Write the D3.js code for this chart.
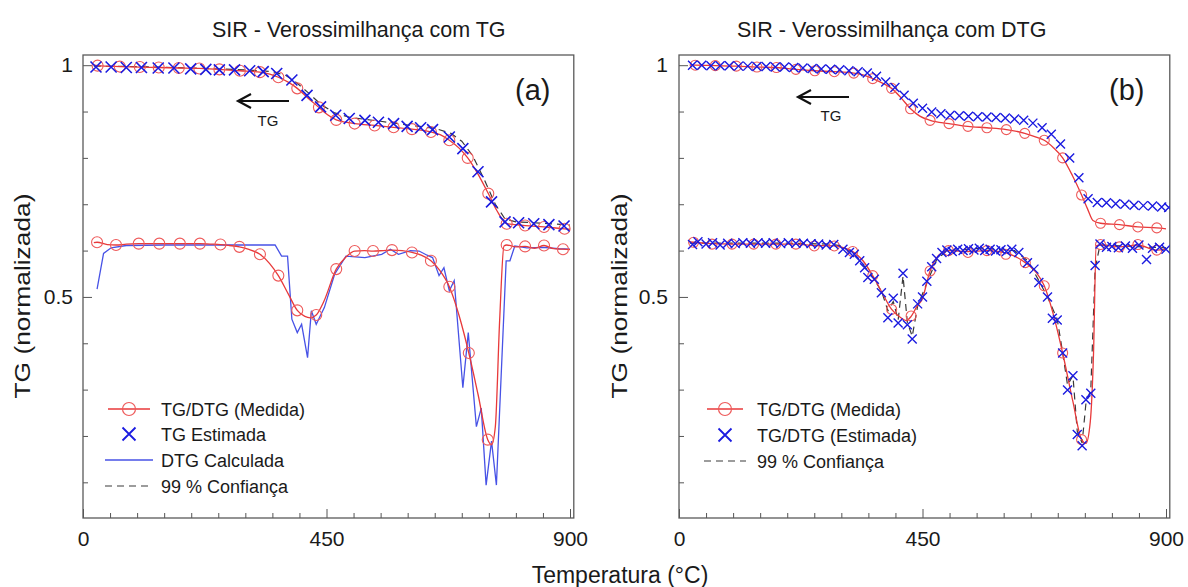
<!DOCTYPE html>
<html><head><meta charset="utf-8">
<script src="https://cdn.jsdelivr.net/npm/d3@7"></script>
<style>
body{margin:0;background:#fff}
svg{display:block}
text{font-family:"Liberation Sans", Arial, Helvetica, sans-serif; fill:#1a1a1a}
</style>
</head><body>
<svg id="chart" width="1188" height="587"></svg>
<script>
// ---------------- DATA ----------------
const titles = ["SIR - Verossimilhança com TG", "SIR - Verossimilhança com DTG"];
const panelLetters = ["(a)", "(b)"];
const xLabel = "Temperatura (°C)";
const yLabel = "TG (normalizada)";
const xTickValues = [0,50,100,150,200,250,300,350,400,450,500,550,600,650,700,750,800,850,900];
const xTickLabels = [0, 450, 900];
const yTickValues = [0.1,0.2,0.3,0.4,0.5,0.6,0.7,0.8,0.9,1.0];
const yTickLabels = [0.5, 1.0];
const legendA = ["TG/DTG (Medida)", "TG Estimada", "DTG Calculada", "99 % Confiança"];
const legendB = ["TG/DTG (Medida)", "TG/DTG (Estimada)", "99 % Confiança"];

// Panel (a) — TG measured (line and circle markers)
const aTgMeasLine = [[20,1.000],[27,0.999],[68,0.997],[105,0.996],[140,0.995],[177,0.994],[215,0.993],[252,0.991],[290,0.988],[327,0.985],[345,0.981],[361,0.974],[380,0.963],[396,0.950],[415,0.930],[436,0.909],[452,0.893],[468,0.882],[485,0.877],[502,0.874],[539,0.870],[574,0.866],[608,0.862],[643,0.856],[660,0.850],[677,0.838],[695,0.821],[711,0.800],[730,0.765],[749,0.723],[765,0.686],[783,0.658],[800,0.656],[817,0.654],[852,0.651],[890,0.647],[900,0.646]];
const aTgMeasPts = [[27,0.999],[68,0.997],[105,0.996],[140,0.995],[177,0.994],[215,0.993],[252,0.991],[290,0.988],[327,0.985],[361,0.974],[396,0.950],[436,0.909],[468,0.882],[502,0.874],[539,0.870],[574,0.866],[608,0.862],[643,0.856],[677,0.838],[711,0.800],[749,0.723],[783,0.658],[817,0.654],[852,0.651],[890,0.647]];
// Panel (a) — TG estimated (crosses)
const aTgEst = [[24,0.996],[52,0.996],[80,0.995],[108,0.995],[139,0.994],[168,0.994],[199,0.992],[227,0.991],[252,0.990],[280,0.990],[308,0.988],[333,0.986],[358,0.982],[386,0.968],[414,0.935],[439,0.910],[467,0.892],[492,0.885],[521,0.881],[546,0.877],[574,0.874],[599,0.868],[624,0.865],[646,0.861],[677,0.845],[702,0.820],[730,0.770],[755,0.705],[780,0.662],[805,0.660],[833,0.658],[861,0.656],[889,0.653]];
// Panel (a) — 99% confidence (dashed)
const aTgConf = [[20,0.998],[100,0.997],[200,0.994],[300,0.990],[350,0.986],[375,0.978],[395,0.962],[415,0.942],[440,0.915],[465,0.897],[495,0.887],[550,0.879],[600,0.871],[650,0.864],[680,0.853],[700,0.836],[720,0.805],[742,0.752],[762,0.700],[780,0.668],[800,0.662],[850,0.659],[900,0.655]];
// Panel (a) — DTG measured
const aDtgMeasLine = [[20,0.617],[26,0.618],[45,0.613],[61,0.612],[80,0.614],[103,0.615],[141,0.615],[179,0.615],[216,0.615],[235,0.614],[254,0.613],[270,0.611],[289,0.608],[305,0.603],[327,0.592],[345,0.572],[361,0.546],[380,0.505],[396,0.471],[410,0.458],[420,0.455],[431,0.461],[445,0.490],[468,0.560],[485,0.585],[502,0.599],[520,0.600],[536,0.599],[555,0.600],[571,0.601],[590,0.600],[608,0.596],[625,0.590],[643,0.578],[660,0.556],[677,0.522],[695,0.460],[713,0.379],[730,0.290],[748,0.192],[755,0.181],[762,0.220],[770,0.450],[778,0.610],[783,0.612],[800,0.608],[817,0.609],[835,0.605],[852,0.611],[870,0.604],[887,0.603],[900,0.602]];
const aDtgMeasPts = [[26,0.618],[61,0.612],[103,0.615],[141,0.615],[179,0.615],[216,0.615],[254,0.613],[289,0.608],[327,0.592],[361,0.546],[396,0.471],[431,0.461],[468,0.560],[502,0.599],[536,0.599],[571,0.601],[608,0.596],[643,0.578],[677,0.522],[713,0.379],[748,0.192],[783,0.612],[817,0.609],[852,0.611],[887,0.603]];
// Panel (a) — DTG calculated (blue line)
const aDtgCalc = [[26,0.517],[38,0.594],[52,0.606],[80,0.611],[150,0.612],[250,0.612],[300,0.612],[355,0.612],[367,0.588],[378,0.588],[386,0.452],[396,0.423],[404,0.441],[415,0.369],[422,0.470],[431,0.441],[446,0.477],[465,0.549],[486,0.588],[521,0.585],[552,0.592],[568,0.603],[583,0.592],[605,0.600],[621,0.599],[636,0.590],[646,0.585],[658,0.546],[667,0.563],[677,0.513],[686,0.535],[702,0.304],[712,0.423],[727,0.220],[736,0.260],[745,0.094],[755,0.189],[764,0.094],[782,0.578],[789,0.578],[798,0.610],[820,0.606],[850,0.607],[880,0.604],[900,0.603]];

// Panel (b) — TG measured
const bTgMeasLine = [[20,1.000],[30,1.000],[67,0.999],[106,0.998],[144,0.996],[180,0.995],[216,0.991],[251,0.988],[287,0.986],[323,0.983],[340,0.979],[358,0.971],[375,0.962],[393,0.950],[410,0.930],[428,0.906],[445,0.890],[464,0.881],[499,0.874],[534,0.868],[569,0.865],[605,0.861],[639,0.853],[660,0.845],[675,0.838],[692,0.822],[709,0.800],[727,0.762],[744,0.720],[755,0.690],[765,0.665],[779,0.659],[814,0.656],[848,0.651],[883,0.649],[900,0.647]];
const bTgMeasPts = [[30,1.000],[67,0.999],[106,0.998],[144,0.996],[180,0.995],[216,0.991],[251,0.988],[287,0.986],[323,0.983],[358,0.971],[393,0.950],[428,0.906],[464,0.881],[499,0.874],[534,0.868],[569,0.865],[605,0.861],[639,0.853],[675,0.838],[709,0.800],[744,0.720],[779,0.659],[814,0.656],[848,0.651],[883,0.649]];
// Panel (b) — TG estimated (crosses)
const bTgEst = [[25,1.000],[42,1.000],[59,0.999],[76,0.999],[93,0.999],[110,0.998],[127,0.998],[144,0.997],[161,0.997],[178,0.996],[195,0.996],[212,0.995],[229,0.994],[246,0.993],[263,0.992],[280,0.991],[297,0.990],[314,0.988],[331,0.986],[348,0.983],[365,0.976],[382,0.964],[399,0.952],[416,0.935],[433,0.918],[450,0.907],[467,0.899],[484,0.895],[501,0.892],[518,0.891],[535,0.890],[552,0.889],[569,0.888],[586,0.887],[603,0.886],[620,0.884],[637,0.881],[654,0.875],[671,0.865],[688,0.851],[705,0.830],[722,0.800],[739,0.757],[756,0.712],[773,0.704],[790,0.703],[807,0.701],[824,0.700],[841,0.698],[858,0.697],[875,0.696],[892,0.694],[905,0.693]];
// Panel (b) — DTG measured
const bDtgMeasLine = [[20,0.619],[27,0.618],[61,0.615],[98,0.614],[138,0.614],[179,0.614],[216,0.614],[250,0.611],[287,0.610],[305,0.606],[321,0.598],[340,0.578],[358,0.546],[375,0.510],[393,0.473],[410,0.455],[420,0.449],[429,0.458],[440,0.480],[449,0.494],[464,0.556],[480,0.590],[498,0.600],[534,0.598],[569,0.600],[604,0.595],[620,0.588],[640,0.574],[660,0.553],[675,0.524],[690,0.470],[709,0.379],[728,0.274],[744,0.192],[752,0.184],[760,0.230],[766,0.376],[771,0.610],[779,0.612],[814,0.608],[848,0.612],[883,0.601],[900,0.603]];
const bDtgMeasPts = [[27,0.618],[61,0.614],[98,0.614],[138,0.614],[179,0.614],[216,0.614],[250,0.610],[287,0.610],[321,0.598],[358,0.546],[393,0.473],[429,0.459],[464,0.556],[498,0.600],[534,0.596],[569,0.600],[604,0.592],[640,0.574],[675,0.524],[709,0.379],[744,0.192],[779,0.613],[814,0.608],[848,0.613],[883,0.601]];
// Panel (b) — DTG estimated (crosses)
const bDtgEst = [[25,0.613],[35,0.619],[50,0.614],[62,0.617],[76,0.612],[90,0.616],[104,0.615],[118,0.617],[132,0.616],[146,0.617],[160,0.616],[174,0.617],[188,0.615],[202,0.617],[216,0.616],[230,0.616],[244,0.615],[258,0.614],[272,0.612],[286,0.613],[303,0.603],[315,0.596],[324,0.592],[334,0.578],[343,0.563],[349,0.542],[361,0.538],[374,0.509],[386,0.455],[396,0.497],[405,0.444],[414,0.551],[422,0.440],[431,0.409],[441,0.485],[450,0.500],[458,0.534],[467,0.565],[476,0.583],[486,0.596],[495,0.601],[505,0.598],[515,0.603],[525,0.600],[535,0.604],[545,0.601],[555,0.605],[565,0.600],[575,0.603],[585,0.599],[595,0.602],[605,0.598],[615,0.603],[628,0.596],[644,0.574],[656,0.560],[665,0.531],[681,0.500],[690,0.454],[699,0.450],[709,0.379],[718,0.299],[728,0.330],[736,0.203],[745,0.179],[752,0.278],[761,0.292],[769,0.568],[778,0.614],[790,0.607],[800,0.609],[812,0.606],[825,0.610],[838,0.605],[850,0.612],[864,0.581],[875,0.605],[888,0.607],[900,0.603]];
// Panel (b) — 99% confidence (dashed)
const bDtgConf = [[20,0.616],[100,0.616],[200,0.616],[280,0.614],[300,0.610],[320,0.596],[340,0.570],[360,0.540],[375,0.510],[386,0.470],[396,0.490],[405,0.450],[414,0.545],[422,0.445],[431,0.415],[441,0.480],[458,0.530],[476,0.580],[495,0.600],[560,0.605],[620,0.600],[645,0.578],[665,0.535],[681,0.500],[699,0.452],[709,0.380],[718,0.310],[728,0.330],[736,0.210],[745,0.185],[752,0.270],[761,0.300],[769,0.560],[778,0.612],[900,0.606]];

// ---------------- STYLE ----------------
const RED = "#e8393a", RED_M = "#ee5a5a", BLUE = "#1b1be0", BLUE_L = "#4752e6", DASH = "#3a3a3a";
const FRAME_TOP = 55, FRAME_BOTTOM = 518;
const svg = d3.select("#chart");

const panels = [
  {x0:83, x900:570, xEnd:907, title:titles[0], titleX:212, letter:panelLetters[0], letterX:515,
   arrow:{x1:289, x2:238, y:101, tx:268, ty:126}, ylabX:30, tickPad:10},
  {x0:679, x900:1166, xEnd:907, title:titles[1], titleX:737, letter:panelLetters[1], letterX:1109,
   arrow:{x1:849, x2:798, y:97, tx:831, ty:121}, ylabX:627, tickPad:11}
];

const y = d3.scaleLinear().domain([0.023, 1.022]).range([FRAME_BOTTOM, FRAME_TOP]);
const fmtX = d => xTickLabels.includes(d) ? String(d) : "";
const fmtY = d => Math.abs(d-0.5)<1e-9 ? "0.5" : (Math.abs(d-1)<1e-9 ? "1" : "");

function crossPath(s){ return `M${-s},${-s}L${s},${s}M${-s},${s}L${s},${-s}`; }

panels.forEach((p, i) => {
  const x = d3.scaleLinear().domain([0, 900]).range([p.x0, p.x900]);
  const g = svg.append("g");
  const clipId = "clip" + i;
  svg.append("clipPath").attr("id", clipId).append("rect")
    .attr("x", x(0)).attr("y", FRAME_TOP).attr("width", x(p.xEnd)-x(0)).attr("height", FRAME_BOTTOM-FRAME_TOP);

  // axes
  const xAxis = d3.axisBottom(x).tickValues(xTickValues).tickFormat(fmtX).tickSizeInner(-5).tickSizeOuter(0).tickPadding(13);
  const gx = g.append("g").attr("transform", `translate(0,${FRAME_BOTTOM})`).call(xAxis);
  gx.select(".domain").remove();
  gx.selectAll(".tick line").attr("stroke", "#555").attr("y2", d => xTickLabels.includes(d) ? -9 : -5);
  gx.selectAll(".tick text").attr("font-size", 21).attr("fill", "#1a1a1a").style("font-family", '"Liberation Sans", Arial, sans-serif');

  const yAxis = d3.axisLeft(y).tickValues(yTickValues).tickFormat(fmtY).tickSizeInner(-5).tickSizeOuter(0).tickPadding(p.tickPad);
  const gy = g.append("g").attr("transform", `translate(${x(0)},0)`).call(yAxis);
  gy.select(".domain").remove();
  gy.selectAll(".tick line").attr("stroke", "#555").attr("x2", d => fmtY(d) ? 9 : 5);
  gy.selectAll(".tick text").attr("font-size", 21).attr("fill", "#1a1a1a").style("font-family", '"Liberation Sans", Arial, sans-serif');

  // frame
  g.append("rect").attr("x", x(0)).attr("y", FRAME_TOP).attr("width", x(p.xEnd)-x(0)).attr("height", FRAME_BOTTOM-FRAME_TOP)
    .attr("fill", "none").attr("stroke", "#5a5a5a").attr("stroke-width", 1.3);

  // titles
  g.append("text").attr("x", p.titleX).attr("y", 37).attr("font-size", 21.5).text(p.title);
  g.append("text").attr("x", p.letterX).attr("y", 100).attr("font-size", 29).text(p.letter);
  g.append("text").attr("transform", `translate(${p.ylabX},296) rotate(-90)`).attr("text-anchor", "middle")
    .attr("font-size", 22).attr("textLength", 205).attr("lengthAdjust", "spacingAndGlyphs").text(yLabel);

  // arrow
  const a = p.arrow;
  g.append("line").attr("x1", a.x1).attr("x2", a.x2).attr("y1", a.y).attr("y2", a.y).attr("stroke", "#111").attr("stroke-width", 2);
  g.append("path").attr("d", `M${a.x2+13},${a.y-7}L${a.x2},${a.y}L${a.x2+13},${a.y+7}`).attr("fill", "none").attr("stroke", "#111").attr("stroke-width", 2.2);
  g.append("text").attr("x", a.tx).attr("y", a.ty).attr("text-anchor", "middle").attr("font-size", 15).text("TG");

  const plot = g.append("g").attr("clip-path", `url(#${clipId})`);
  const line = d3.line().x(d => x(d[0])).y(d => y(d[1]));
  const smooth = d3.line().x(d => x(d[0])).y(d => y(d[1])).curve(d3.curveMonotoneX);

  function dashed(data){ plot.append("path").datum(data).attr("d", line).attr("fill","none").attr("stroke", DASH).attr("stroke-width", 1.2).attr("stroke-dasharray", "7,5"); }
  function redSeries(lineData, pts, r){
    plot.append("path").datum(lineData).attr("d", smooth).attr("fill","none").attr("stroke", RED).attr("stroke-width", 1.3);
    plot.selectAll(null).data(pts).enter().append("circle").attr("cx", d => x(d[0])).attr("cy", d => y(d[1])).attr("r", r)
      .attr("fill","none").attr("stroke", RED_M).attr("stroke-width", 1.1);
  }
  function crosses(data, s, w){
    plot.selectAll(null).data(data).enter().append("path").attr("transform", d => `translate(${x(d[0])},${y(d[1])})`)
      .attr("d", crossPath(s)).attr("fill","none").attr("stroke", BLUE).attr("stroke-width", w);
  }

  if (i === 0) {
    dashed(aTgConf);
    redSeries(aTgMeasLine, aTgMeasPts, 5.5);
    crosses(aTgEst, 5.5, 1.6);
    plot.append("path").datum(aDtgCalc).attr("d", line).attr("fill","none").attr("stroke", BLUE_L).attr("stroke-width", 1.3);
    redSeries(aDtgMeasLine, aDtgMeasPts, 5.5);
  } else {
    redSeries(bTgMeasLine, bTgMeasPts, 5);
    crosses(bTgEst, 4.5, 1.4);
    dashed(bDtgConf);
    redSeries(bDtgMeasLine, bDtgMeasPts, 5);
    crosses(bDtgEst, 4.5, 1.4);
  }

  // legend
  const L = i === 0 ? {x1:108, x2:150, tx:161, rows:[409,434,460,486], labels:legendA}
                    : {x1:707, x2:743, tx:757, rows:[409,435,461], labels:legendB};
  const mx = (L.x1+L.x2)/2;
  const lg = g.append("g");
  L.labels.forEach((lab, k) => {
    const yy = L.rows[k];
    lg.append("text").attr("x", L.tx).attr("y", yy+6.5).attr("font-size", 18).text(lab);
    const kind = (i === 0) ? ["meas","cross","blue","dash"][k] : ["meas","cross","dash"][k];
    if (kind === "meas") {
      lg.append("line").attr("x1", L.x1).attr("x2", L.x2).attr("y1", yy).attr("y2", yy).attr("stroke", RED).attr("stroke-width", 1.3);
      lg.append("circle").attr("cx", mx).attr("cy", yy).attr("r", 6.5).attr("fill","none").attr("stroke", RED_M).attr("stroke-width", 1.2);
    } else if (kind === "cross") {
      lg.append("path").attr("transform", `translate(${mx},${yy})`).attr("d", crossPath(6.5)).attr("fill","none").attr("stroke", BLUE).attr("stroke-width", 1.8);
    } else if (kind === "blue") {
      lg.append("line").attr("x1", L.x1-3).attr("x2", L.x2+3).attr("y1", yy).attr("y2", yy).attr("stroke", BLUE_L).attr("stroke-width", 1.4);
    } else {
      lg.append("line").attr("x1", L.x1-3).attr("x2", L.x2+3).attr("y1", yy).attr("y2", yy).attr("stroke", DASH).attr("stroke-width", 1.2).attr("stroke-dasharray", "7,5");
    }
  });
});

svg.append("text").attr("x", 620).attr("y", 583).attr("text-anchor", "middle").attr("font-size", 23).text(xLabel);
</script>
</body></html>
